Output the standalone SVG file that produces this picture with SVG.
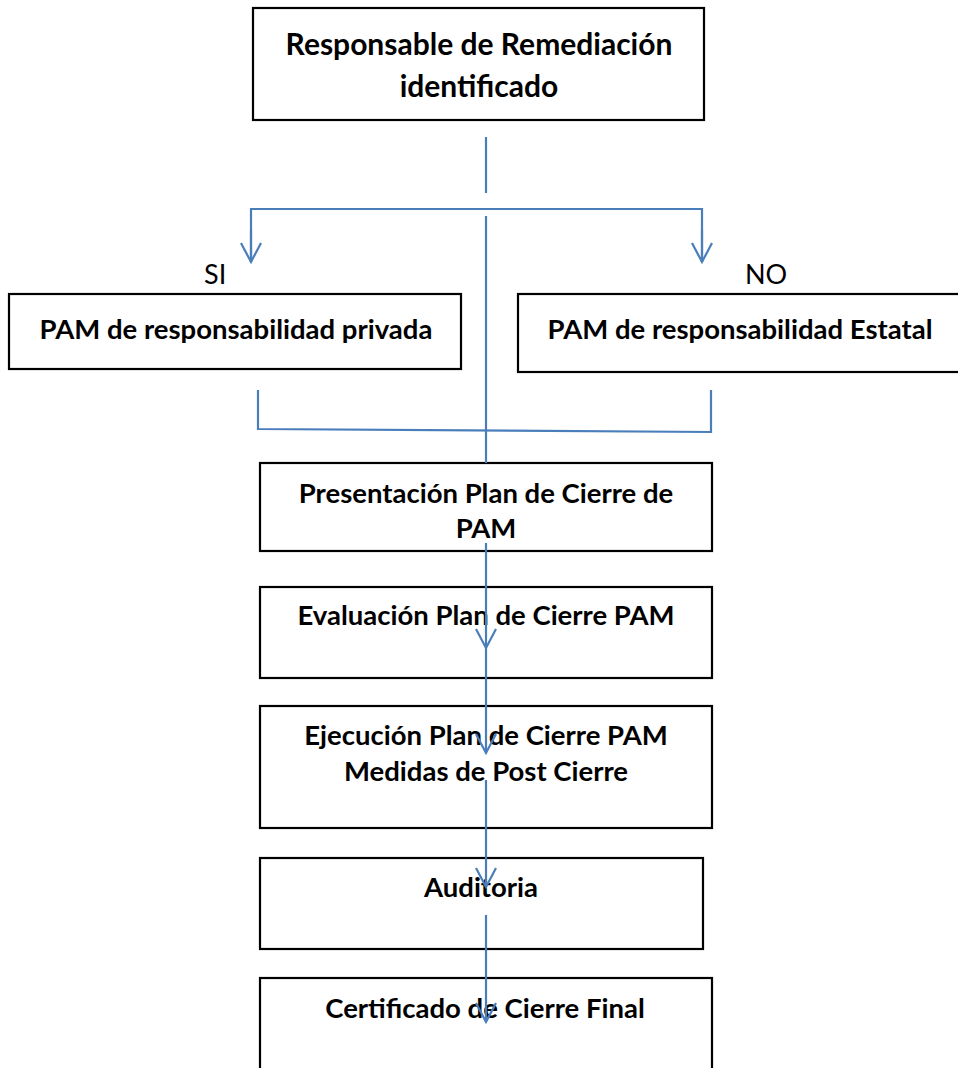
<svg xmlns="http://www.w3.org/2000/svg" width="958" height="1068" viewBox="0 0 958 1068">
<defs>
<marker id="ah" markerUnits="userSpaceOnUse" markerWidth="24" markerHeight="24" viewBox="-22 -12 24 24" refX="0" refY="0" orient="auto" overflow="visible">
<path d="M-19,-10 L0,0 L-19,10" fill="none" stroke="#4a7ebb" stroke-width="2.2"/>
</marker>
</defs>
<style>
.box{fill:#fff;stroke:#000;stroke-width:2.2}
.t{font-family:Lato,"Liberation Sans",sans-serif;font-weight:bold;font-size:27.5px;fill:#000;text-anchor:middle}
.tt{font-size:30px}
.lbl{font-family:Lato,"Liberation Sans",sans-serif;font-size:27px;fill:#000}
.c{fill:none;stroke:#4a7ebb;stroke-width:2.2}
</style>
<rect width="958" height="1068" fill="#fff"/>
<g id="n-top"><rect class="box" x="253" y="8" width="451" height="112" stroke-width="3"/>
<text class="t tt" x="479" y="55">Responsable de Remediación</text>
<text class="t tt" x="479" y="97">identificado</text></g>
<g id="n-privada"><rect class="box" x="9" y="294" width="452" height="75"/>
<text class="t" x="236" y="339">PAM de responsabilidad privada</text></g>
<g id="n-estatal"><rect class="box" x="518" y="294" width="445" height="78"/>
<text class="t" x="740" y="339">PAM de responsabilidad Estatal</text></g>
<g id="n-presentacion"><rect class="box" x="260" y="463" width="452" height="88"/>
<text class="t" x="486" y="503">Presentación Plan de Cierre de</text>
<text class="t" x="486" y="538">PAM</text></g>
<g id="n-evaluacion"><rect class="box" x="260" y="587" width="452" height="91"/>
<text class="t" x="486" y="625">Evaluación Plan de Cierre PAM</text></g>
<g id="n-ejecucion"><rect class="box" x="260" y="706" width="452" height="122"/>
<text class="t" x="486" y="745">Ejecución Plan de Cierre PAM</text>
<text class="t" x="486" y="781">Medidas de Post Cierre</text></g>
<g id="n-auditoria"><rect class="box" x="260" y="858" width="443" height="91"/>
<text class="t" x="481" y="897">Auditoria</text></g>
<g id="n-certificado"><rect class="box" x="260" y="978" width="452" height="100"/>
<text class="t" x="485" y="1018">Certificado de Cierre Final</text></g>
<g id="labels">
<text class="lbl" x="204" y="284">SI</text>
<text class="lbl" x="745" y="284">NO</text>
</g>
<g id="connectors">
<line class="c" x1="486" y1="137" x2="486" y2="193"/>
<polyline class="c" points="251,262 251,209 702,209 702,262"/>
<line class="c" x1="251" y1="230" x2="251" y2="262" marker-end="url(#ah)"/>
<line class="c" x1="702" y1="230" x2="702" y2="262" marker-end="url(#ah)"/>
<line class="c" x1="486" y1="216" x2="486" y2="463"/>
<polyline class="c" points="258,390 258,429 711,432 711,390"/>
<line class="c" x1="486" y1="543" x2="486" y2="648" marker-end="url(#ah)"/>
<line class="c" x1="486" y1="648" x2="486" y2="753" marker-end="url(#ah)"/>
<line class="c" x1="486" y1="780" x2="486" y2="887" marker-end="url(#ah)"/>
<line class="c" x1="486" y1="915" x2="486" y2="1022" marker-end="url(#ah)"/>
</g>
</svg>
